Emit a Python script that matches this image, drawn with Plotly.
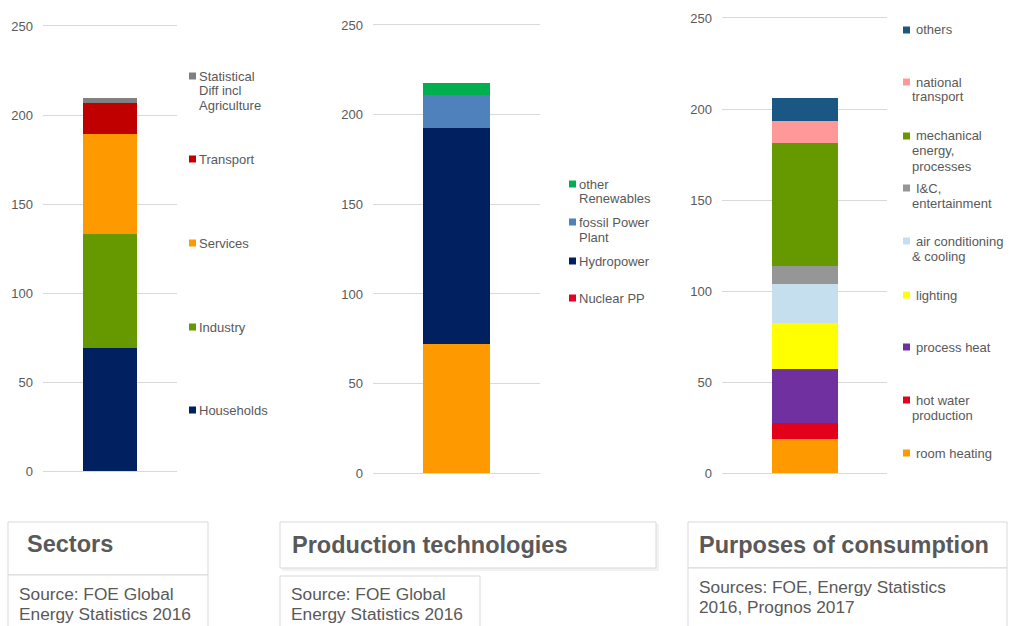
import plotly.graph_objects as go

# ---- data -------------------------------------------------------------
# Sectors (bottom -> top of the stack)
sector_names = ["Households", "Industry", "Services", "Transport",
                "Statistical<br>Diff incl<br>Agriculture"]
sector_values = [69.0, 64.5, 56.0, 17.5, 2.7]

# Production technologies (bottom -> top)
tech_names = ["Nuclear PP", "Hydropower", "fossil Power<br>Plant", "other<br>Renewables"]
tech_values = [72.0, 120.5, 18.5, 6.7]

# Purposes of consumption (bottom -> top)
purpose_names = ["room heating", "hot water<br>production", "process heat", "lighting",
                 "air conditioning<br>& cooling", "I&C,<br>entertainment",
                 "mechanical<br>energy,<br>processes", "national<br>transport", "others"]
purpose_values = [18.8, 8.8, 29.7, 25.3, 21.4, 9.8, 67.6, 12.1, 12.6]

y_ticks = [0, 50, 100, 150, 200, 250]

titles = ["Sectors", "Production technologies", "Purposes of consumption"]
sources = [["Source: FOE Global", "Energy Statistics 2016"],
           ["Source: FOE Global", "Energy Statistics 2016"],
           ["Sources: FOE, Energy Statistics", "2016, Prognos 2017"]]

# ---- styles -----------------------------------------------------------
sector_colors = ["#002060", "#669900", "#FF9900", "#C00000", "#808080"]
tech_bar_colors = ["#FF9900", "#002060", "#4F81BD", "#00B050"]
tech_key_colors = ["#E60026", "#002060", "#4F81BD", "#00B050"]
purpose_colors = ["#FF9900", "#E2001A", "#7030A0", "#FFFF00", "#C6DFEE",
                  "#969696", "#669900", "#FF9999", "#1B5785"]

W, H = 1015, 626
FONT = "Arial, Liberation Sans, sans-serif"
TXT = "#595959"
GRID = "#D9D9D9"
PAD = 1.0   # value padding so the 0 and 250 grid lines stay inside the range
ANN_X = 2   # annotation inner padding compensation (px)
LINE_H = 15      # legend line pitch


def fx(px):
    return px / W


def fy(py):
    return 1 - py / H


# plot areas in pixels: (left, right, y-pixel of 250, y-pixel of 0)
areas = [(43, 177, 26, 471.3), (373, 540, 25, 473.3), (722, 887, 18, 473.3)]

# legend layout per panel: swatch x-range, text x, first-line x, item centres
legend_cfg = [
    dict(sw=(189, 196), tx=199, tx0=199, ys=[76, 159, 243, 327, 410]),
    dict(sw=(569, 576), tx=579, tx0=579, ys=[184, 222, 261, 298]),
    dict(sw=(903, 910), tx=912, tx0=916, ys=[30, 82, 136, 188, 241, 295, 347, 400, 453]),
]

panels = [
    (sector_names, sector_values, sector_colors, sector_colors),
    (tech_names, tech_values, tech_bar_colors, tech_key_colors),
    (purpose_names, purpose_values, purpose_colors, purpose_colors),
]

fig = go.Figure()
annotations = []
shapes = []

for i, (names, vals, bar_cols, key_cols) in enumerate(panels):
    ax = "" if i == 0 else str(i + 1)
    for name, v, c in zip(names, vals, bar_cols):
        fig.add_trace(go.Bar(
            x=[""], y=[v], name=name.replace("<br>", " "),
            marker=dict(color=c, line=dict(width=0)),
            xaxis="x" + ax, yaxis="y" + ax, showlegend=False,
            hovertemplate="%{fullData.name}: %{y}<extra></extra>",
        ))

    l, r, t, b = areas[i]
    s = (b - t) / 250.0
    fig.update_layout(**{
        "xaxis" + ax: dict(domain=[fx(l), fx(r)], anchor="y" + ax, automargin=False,
                           showticklabels=False, showgrid=False, zeroline=False,
                           showline=False, fixedrange=True),
        "yaxis" + ax: dict(domain=[fy(b + PAD * s), fy(t - PAD * s)], anchor="x" + ax,
                           automargin=False, range=[-PAD, 250 + PAD], tickvals=y_ticks,
                           showgrid=True, gridcolor=GRID, gridwidth=1, zeroline=False,
                           showline=False, ticks="", ticklabelstandoff=9,
                           tickfont=dict(family=FONT, size=13, color=TXT),
                           fixedrange=True),
    })

    # legend, top entry first
    cfg = legend_cfg[i]
    for k, (name, kc) in enumerate(zip(names[::-1], key_cols[::-1])):
        yc = cfg["ys"][k]
        shapes.append(dict(type="rect", xref="paper", yref="paper",
                           x0=fx(cfg["sw"][0]), x1=fx(cfg["sw"][1]),
                           y0=fy(yc + 3.5), y1=fy(yc - 3.5),
                           fillcolor=kc, line=dict(width=0)))
        for j, line in enumerate(name.split("<br>")):
            xpos = cfg["tx0"] if j == 0 else cfg["tx"]
            annotations.append(dict(
                xref="paper", yref="paper",
                x=fx(xpos - ANN_X), y=fy(yc + j * LINE_H),
                xanchor="left", yanchor="middle", showarrow=False,
                text=line, font=dict(family=FONT, size=13, color=TXT)))

fig.update_layout(barmode="stack", bargap=0.6)

# caption boxes below the charts
boxes = [
    dict(title=(8, 208, 522, 575), src=(8, 208, 575, 640), tx=27, ty=544,
         sx=19, sy=[594, 614], shadow=False),
    dict(title=(280, 656, 522, 568), src=(280, 480, 576, 640), tx=292, ty=545,
         sx=291, sy=[594, 614], shadow=True),
    dict(title=(688, 1007, 522, 568), src=(688, 1007, 568, 640), tx=699, ty=545,
         sx=699, sy=[587, 607], shadow=False),
]
for i, bx in enumerate(boxes):
    x0, x1, y0, y1 = bx["title"]
    if bx["shadow"]:
        shapes.append(dict(type="rect", xref="paper", yref="paper",
                           x0=fx(x0 + 2), x1=fx(x1 + 3), y0=fy(y1 + 3), y1=fy(y0 + 2),
                           fillcolor="#F2F2F2", line=dict(width=0), layer="below"))
    shapes.append(dict(type="rect", xref="paper", yref="paper",
                       x0=fx(x0), x1=fx(x1), y0=fy(y1), y1=fy(y0),
                       fillcolor="white", line=dict(color=GRID, width=1), layer="below"))
    sx0, sx1, sy0, sy1 = bx["src"]
    shapes.append(dict(type="rect", xref="paper", yref="paper",
                       x0=fx(sx0), x1=fx(sx1), y0=fy(sy1), y1=fy(sy0),
                       fillcolor="white", line=dict(color=GRID, width=1), layer="below"))
    annotations.append(dict(
        xref="paper", yref="paper", x=fx(bx["tx"] - ANN_X), y=fy(bx["ty"]),
        xanchor="left", yanchor="middle", showarrow=False,
        text="<b>" + titles[i] + "</b>", font=dict(family=FONT, size=23.5, color=TXT)))
    for j, line in enumerate(sources[i]):
        annotations.append(dict(
            xref="paper", yref="paper", x=fx(bx["sx"] - ANN_X), y=fy(bx["sy"][j]),
            xanchor="left", yanchor="middle", showarrow=False,
            text=line, font=dict(family=FONT, size=17.3, color=TXT)))

fig.update_layout(
    width=W, height=H,
    margin=dict(l=0, r=0, t=0, b=0, pad=0),
    paper_bgcolor="white", plot_bgcolor="white",
    showlegend=False,
    annotations=annotations, shapes=shapes,
)

fig.write_html("out.html", config={"displayModeBar": False})
